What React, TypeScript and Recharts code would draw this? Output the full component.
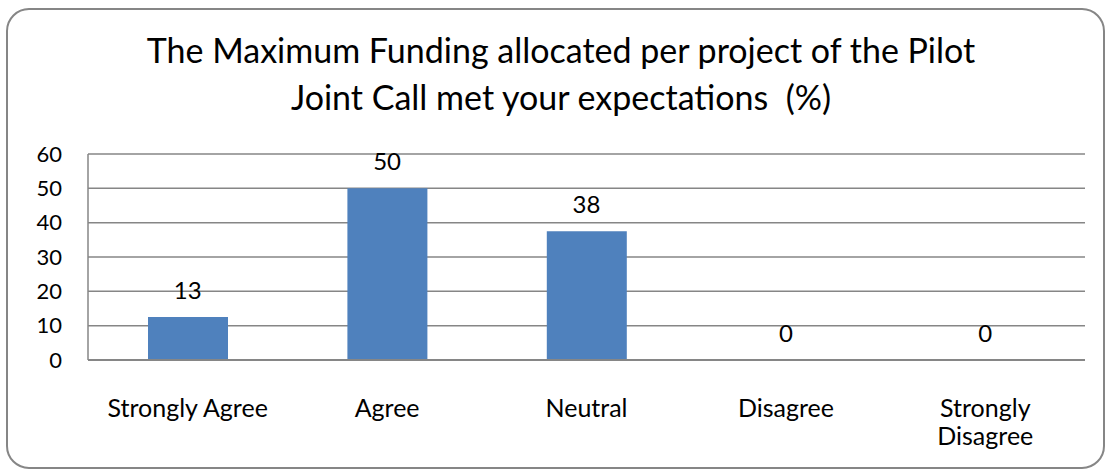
import { ComposedChart, Bar, Line, XAxis, YAxis, CartesianGrid, LabelList } from 'recharts'

const categories = ['Strongly Agree', 'Agree', 'Neutral', 'Disagree', 'Strongly\nDisagree']
const percentValues = [12.5, 50, 37.5, 0, 0]
const yTicks = [0, 10, 20, 30, 40, 50, 60]
const titleLines = ['The Maximum Funding allocated per project of the Pilot', 'Joint Call met your expectations  (%)']

const data = categories.map((name, i) => ({ name, value: percentValues[i] }))

const FONT = 'Lato, "Open Sans", sans-serif'
const GRID = '#868686'

function CategoryTick({ x, y, payload }: any) {
  const lines = String(payload.value).split('\n')
  return (
    <text x={x} y={y} textAnchor="middle" fill="#000" fontSize={25} fontFamily={FONT}>
      {lines.map((line, i) => (
        <tspan key={i} x={x} dy={i === 0 ? 26 : 28}>
          {line}
        </tspan>
      ))}
    </text>
  )
}

export default function App() {
  return (
    <div style={{ position: 'absolute', left: 0, top: 0, width: 1108, height: 474, background: '#fff' }}>
      <svg width={1108} height={474} style={{ position: 'absolute', left: 0, top: 0 }}>
        <rect x={7} y={9} width={1097} height={459} rx={22} ry={22} fill="#fff" stroke={GRID} strokeWidth={2} />
        {titleLines.map((line, i) => (
          <text
            key={i}
            x={561}
            y={63 + i * 47}
            textAnchor="middle"
            fontSize={34}
            fontFamily={FONT}
            fill="#000"
            style={{ whiteSpace: 'pre' }}
          >
            {line}
          </text>
        ))}
      </svg>
      <div style={{ position: 'absolute', left: 0, top: 0 }}>
        <ComposedChart width={1108} height={474} data={data} margin={{ top: 154, right: 23, bottom: 54, left: 0 }}>
          <CartesianGrid vertical={false} stroke={GRID} strokeWidth={1.5} />
          <XAxis
            dataKey="name"
            interval={0}
            height={60}
            tickLine={false}
            tickMargin={25}
            axisLine={{ stroke: GRID, strokeWidth: 2 }}
            tick={<CategoryTick />}
          />
          <YAxis
            width={88}
            domain={[0, 60]}
            ticks={yTicks}
            interval={0}
            tickLine={false}
            tickMargin={20}
            axisLine={{ stroke: GRID, strokeWidth: 1.5 }}
            tick={{ fill: '#000', fontSize: 22, fontFamily: FONT }}
          />
          <Bar dataKey="value" fill="#4F81BD" barSize={80} isAnimationActive={false} />
          {/* invisible line only carries the value labels, so zero values get a label too */}
          <Line dataKey="value" stroke="none" dot={false} activeDot={false} legendType="none" isAnimationActive={false}>
            <LabelList
              dataKey="value"
              position="top"
              offset={18}
              formatter={(v: any) => Math.round(Number(v))}
              fill="#000"
              fontSize={24}
              fontFamily={FONT}
            />
          </Line>
        </ComposedChart>
      </div>
    </div>
  )
}
